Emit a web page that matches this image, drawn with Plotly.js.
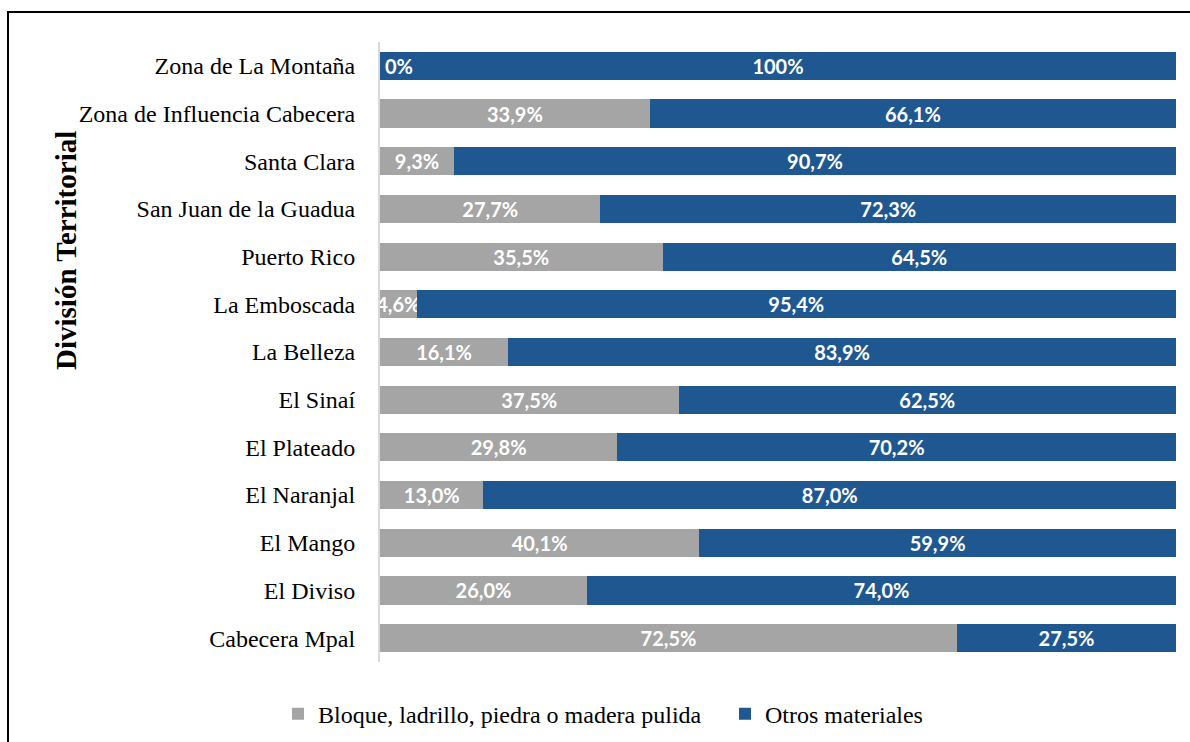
<!DOCTYPE html>
<html>
<head>
<meta charset="utf-8">
<script src="https://cdn.plot.ly/plotly-3.0.1.min.js"></script>
<style>html,body{margin:0;padding:0;background:#fff;}#chart{width:1190px;height:742px;}</style>
</head>
<body>
<div id="chart"></div>
<script>
const categories = ["Cabecera Mpal","El Diviso","El Mango","El Naranjal","El Plateado","El Sinaí","La Belleza","La Emboscada","Puerto Rico","San Juan de la Guadua","Santa Clara","Zona de Influencia Cabecera","Zona de La Montaña"];
const bloqueValues = [72.5,26.0,40.1,13.0,29.8,37.5,16.1,4.6,35.5,27.7,9.3,33.9,0];
const otrosValues  = [27.5,74.0,59.9,87.0,70.2,62.5,83.9,95.4,64.5,72.3,90.7,66.1,100];
const bloqueLabels = ["72,5%","26,0%","40,1%","13,0%","29,8%","37,5%","16,1%","4,6%","35,5%","27,7%","9,3%","33,9%","0%"];
const otrosLabels  = ["27,5%","74,0%","59,9%","87,0%","70,2%","62,5%","83,9%","95,4%","64,5%","72,3%","90,7%","66,1%","100%"];
const seriesNames = ["Bloque, ladrillo, piedra o madera pulida","Otros materiales"];

const labelFont = {family:"Lato, 'Open Sans', sans-serif", size:20, color:"#ffffff", weight:"bold"};
const serif = "'Liberation Serif', 'Times New Roman', serif";

// zero-width bars can't show inside text; show via annotation
const bloqueText = bloqueLabels.map((t,i)=> bloqueValues[i] === 0 ? "" : t);
const zeroAnn = [];
bloqueValues.forEach((v,i)=>{
  if(v===0){
    zeroAnn.push({x:0,y:categories[i],xref:"x",yref:"y",text:bloqueLabels[i],showarrow:false,
      xanchor:"left",xshift:3,font:labelFont});
  }
});

const traces = [
  {type:"bar",orientation:"h",name:seriesNames[0],y:categories,x:bloqueValues,text:bloqueText,
   textposition:"inside",insidetextanchor:"middle",constraintext:"none",textfont:labelFont,
   marker:{color:"#a5a5a5"},hoverinfo:"skip",cliponaxis:false,legend:"legend"},
  {type:"bar",orientation:"h",name:seriesNames[1],y:categories,x:otrosValues,text:otrosLabels,
   textposition:"inside",insidetextanchor:"middle",constraintext:"none",textfont:labelFont,
   marker:{color:"#1f5891"},hoverinfo:"skip",legend:"legend2"}
];

const legendFont = {family:serif,size:24,color:"#000"};
const layout = {
  width:1190,height:742,
  paper_bgcolor:"#ffffff",plot_bgcolor:"#ffffff",
  margin:{l:380,r:14,t:42,b:80,pad:0,autoexpand:false},
  barmode:"stack",bargap:0.41,
  showlegend:true,
  legend:{orientation:"h",x:(278-380)/796,xanchor:"left",y:-0.084,yanchor:"middle",
    font:legendFont,itemwidth:30},
  legend2:{orientation:"h",x:(725-380)/796,xanchor:"left",y:-0.084,yanchor:"middle",
    font:legendFont,itemwidth:30},
  xaxis:{range:[0,100],visible:false,fixedrange:true},
  yaxis:{type:"category",categoryorder:"array",categoryarray:categories,
    showline:true,linecolor:"#d9d9d9",linewidth:2,ticks:"",ticklabelstandoff:18,
    showgrid:false,zeroline:false,
    tickfont:{family:serif,size:24,color:"#000"}},
  shapes:[
    {type:"rect",xref:"paper",yref:"paper",x0:(8-380)/796,x1:1.05,y0:-0.3,y1:1+(42-12)/620,
     line:{color:"#000",width:2},fillcolor:"rgba(0,0,0,0)",layer:"below"}
  ],
  annotations:[
    {xref:"paper",yref:"paper",x:(66-380)/796,y:(662-251)/620,text:"División Territorial",
     textangle:-90,showarrow:false,xanchor:"center",yanchor:"middle",
     font:{family:serif,size:29,color:"#000",weight:"bold"}}
  ].concat(zeroAnn)
};

Plotly.newPlot("chart",traces,layout,{displayModeBar:false,staticPlot:true});
</script>
</body>
</html>
